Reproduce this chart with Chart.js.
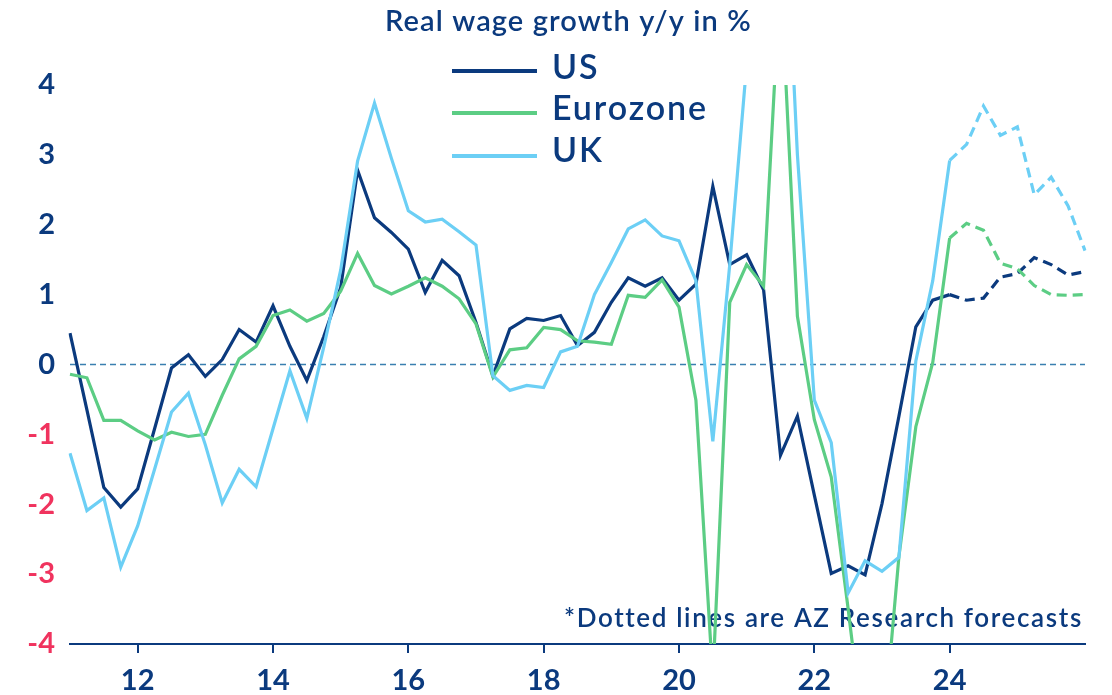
<!DOCTYPE html>
<html>
<head>
<meta charset="utf-8">
<script src="https://cdn.jsdelivr.net/npm/chart.js@4.4.1/dist/chart.umd.min.js"></script>
<style>
  html, body { margin: 0; padding: 0; background: #ffffff; }
  #wrap { width: 1112px; height: 695px; position: relative; }
</style>
</head>
<body>
<div id="wrap"><canvas id="c" width="1112" height="695"></canvas></div>
<script>
// ---------- data ----------
const quarters = [
  '2011Q1','2011Q2','2011Q3','2011Q4','2012Q1','2012Q2','2012Q3','2012Q4',
  '2013Q1','2013Q2','2013Q3','2013Q4','2014Q1','2014Q2','2014Q3','2014Q4',
  '2015Q1','2015Q2','2015Q3','2015Q4','2016Q1','2016Q2','2016Q3','2016Q4',
  '2017Q1','2017Q2','2017Q3','2017Q4','2018Q1','2018Q2','2018Q3','2018Q4',
  '2019Q1','2019Q2','2019Q3','2019Q4','2020Q1','2020Q2','2020Q3','2020Q4',
  '2021Q1','2021Q2','2021Q3','2021Q4','2022Q1','2022Q2','2022Q3','2022Q4',
  '2023Q1','2023Q2','2023Q3','2023Q4','2024Q1','2024Q2','2024Q3','2024Q4',
  '2025Q1','2025Q2','2025Q3','2025Q4','2026Q1'
];
const usValues = [
  0.45, -0.65, -1.76, -2.04, -1.78, -0.92, -0.05, 0.14, -0.17, 0.07,
  0.50, 0.32, 0.84, 0.26, -0.23, 0.40, 1.10, 2.78, 2.10, 1.89,
  1.65, 1.03, 1.49, 1.27, 0.60, -0.16, 0.51, 0.66, 0.63, 0.70,
  0.27, 0.46, 0.89, 1.24, 1.12, 1.24, 0.92, 1.15, 2.55, 1.43,
  1.57, 1.07, -1.30, -0.74, -1.87, -2.99, -2.88, -3.01, -1.99, -0.74,
  0.54, 0.92, 1.00, 0.92, 0.95, 1.25, 1.30, 1.53, 1.43, 1.28, 1.33
];
const eurozoneValues = [
  -0.14, -0.19, -0.80, -0.80, -0.95, -1.08, -0.97, -1.03, -1.00, -0.44,
  0.08, 0.26, 0.70, 0.78, 0.62, 0.73, 1.05, 1.59, 1.13, 1.01,
  1.12, 1.24, 1.12, 0.94, 0.58, -0.18, 0.21, 0.24, 0.53, 0.50,
  0.34, 0.32, 0.29, 0.99, 0.96, 1.21, 0.82, -0.51, -4.5, 0.89,
  1.43, 1.12, 5.6, 0.69, -0.79, -1.61, -3.5, -5.5, -5.5, -2.75,
  -0.89, 0.03, 1.81, 2.02, 1.92, 1.45, 1.37, 1.13, 1.00, 0.99, 1.00
];
const ukValues = [
  -1.27, -2.09, -1.91, -2.90, -2.31, -1.50, -0.68, -0.41, -1.15, -1.98,
  -1.50, -1.75, -0.92, -0.09, -0.77, 0.25, 1.35, 2.91, 3.74, 2.95,
  2.20, 2.04, 2.08, 1.90, 1.71, -0.16, -0.37, -0.30, -0.33, 0.18,
  0.26, 1.00, 1.46, 1.94, 2.07, 1.84, 1.77, 1.20, -1.10, 1.43,
  4.3, 8.5, 8.0, 3.0, -0.51, -1.12, -3.27, -2.81, -2.96, -2.76,
  0.05, 1.20, 2.92, 3.15, 3.70, 3.28, 3.40, 2.43, 2.68, 2.27, 1.63
];
const seriesNames = ['US', 'Eurozone', 'UK'];
const forecastStart = '2024Q1';
const xTickCategories = ['2012Q1','2014Q1','2016Q1','2018Q1','2020Q1','2022Q1','2024Q1'];
const xTickLabels = ['12','14','16','18','20','22','24'];
const yTickValues = [4, 3, 2, 1, 0, -1, -2, -3, -4];
const yTickLabels = ['4','3','2','1','0','-1','-2','-3','-4'];
const titleText = 'Real wage growth y/y in %';
const noteText = '*Dotted lines are AZ Research forecasts';

// ---------- styles ----------
const NAVY = '#0b3a7e';
const RED = '#f0335e';
const COLORS = ['#0b3a7e', '#5ccd84', '#6ccff5'];
const ZERO_COLOR = '#3a7fb0';
const FONT = 'Lato, "Open Sans", sans-serif';

const forecastIndex = quarters.indexOf(forecastStart);
const seriesValues = [usValues, eurozoneValues, ukValues];

function drawFitted(ctx, text, x, y, targetW, weight, size, color) {
  ctx.font = `${weight} ${size}px ${FONT}`;
  ctx.fillStyle = color;
  ctx.textAlign = 'left';
  ctx.textBaseline = 'alphabetic';
  const hasLS = ('letterSpacing' in ctx);
  if (hasLS) ctx.letterSpacing = '0px';
  const w = ctx.measureText(text).width;
  if (hasLS) {
    ctx.letterSpacing = ((targetW - w) / text.length).toFixed(2) + 'px';
  } else {
    ctx.font = `${weight} ${size * targetW / w}px ${FONT}`;
  }
  ctx.fillText(text, x, y);
  if (hasLS) ctx.letterSpacing = '0px';
}

const decor = {
  id: 'decor',
  beforeDatasetsDraw(chart) {
    const { ctx, chartArea: a, scales: { y } } = chart;
    const y0 = y.getPixelForValue(0);
    ctx.save();
    ctx.strokeStyle = ZERO_COLOR;
    ctx.lineWidth = 1.6;
    ctx.setLineDash([6, 4]);
    ctx.beginPath();
    ctx.moveTo(a.left, y0);
    ctx.lineTo(a.right, y0);
    ctx.stroke();
    ctx.restore();

    ctx.save();
    drawFitted(ctx, noteText, 564, 627, 518, '600', 26, NAVY);
    ctx.restore();
  },
  afterDraw(chart) {
    const { ctx } = chart;
    ctx.save();
    drawFitted(ctx, titleText, 385, 31, 367, '600', 29, NAVY);
    ctx.restore();

    // legend
    const lineY = [71, 113, 156];
    const textY = [78.5, 120, 162];
    ctx.save();
    const size = 34;
    ctx.font = `600 ${size}px ${FONT}`;
    const hasLS = ('letterSpacing' in ctx);
    let ls = 0;
    if (hasLS) {
      ctx.letterSpacing = '0px';
      const w = ctx.measureText(seriesNames[1]).width;
      ls = (156 - w) / seriesNames[1].length;
    }
    seriesNames.forEach((name, i) => {
      ctx.strokeStyle = COLORS[i];
      ctx.lineWidth = 4;
      ctx.setLineDash([]);
      ctx.beginPath();
      ctx.moveTo(452, lineY[i]);
      ctx.lineTo(537, lineY[i]);
      ctx.stroke();
      ctx.fillStyle = NAVY;
      ctx.textAlign = 'left';
      ctx.textBaseline = 'alphabetic';
      if (hasLS) ctx.letterSpacing = ls.toFixed(2) + 'px';
      ctx.fillText(name, 552, textY[i]);
    });
    if (hasLS) ctx.letterSpacing = '0px';
    ctx.restore();
  }
};

const datasets = seriesNames.map((name, i) => ({
  label: name,
  data: seriesValues[i],
  borderColor: COLORS[i],
  backgroundColor: COLORS[i],
  borderWidth: 3.2,
  pointRadius: 0,
  pointHoverRadius: 0,
  tension: 0,
  fill: false,
  order: 3 - i,
  segment: {
    borderDash: ctx => (ctx.p0DataIndex >= forecastIndex ? [10, 6] : undefined)
  }
}));

new Chart(document.getElementById('c'), {
  type: 'line',
  data: { labels: quarters, datasets },
  options: {
    responsive: false,
    animation: false,
    devicePixelRatio: 1,
    layout: { padding: { top: 85, right: 27, bottom: 0, left: 0 } },
    plugins: {
      legend: { display: false },
      title: { display: false },
      tooltip: { enabled: false }
    },
    scales: {
      x: {
        type: 'category',
        offset: false,
        grid: {
          display: true,
          drawOnChartArea: false,
          drawTicks: true,
          tickLength: 9,
          lineWidth: 2,
          color: ctx => (xTickCategories.includes(quarters[ctx.index]) ? NAVY : 'rgba(0,0,0,0)')
        },
        border: { display: true, color: NAVY, width: 2 },
        ticks: {
          autoSkip: false,
          maxRotation: 0,
          minRotation: 0,
          padding: 10,
          color: NAVY,
          font: { family: FONT, size: 29, weight: '700' },
          callback: (val, idx) => {
            const k = xTickCategories.indexOf(quarters[idx]);
            return k >= 0 ? xTickLabels[k] : '';
          }
        },
        afterFit: s => { s.height = 51; }
      },
      y: {
        type: 'linear',
        min: -4,
        max: 4,
        afterBuildTicks: s => { s.ticks = yTickValues.map(v => ({ value: v })); },
        grid: { display: false, drawTicks: false },
        border: { display: false },
        ticks: {
          padding: 15,
          font: { family: FONT, size: 29, weight: '700' },
          color: ctx => (ctx.tick && ctx.tick.value < 0 ? RED : NAVY),
          callback: v => yTickLabels[yTickValues.indexOf(v)]
        },
        afterFit: s => { s.width = 70; }
      }
    }
  },
  plugins: [decor]
});
</script>
</body>
</html>
